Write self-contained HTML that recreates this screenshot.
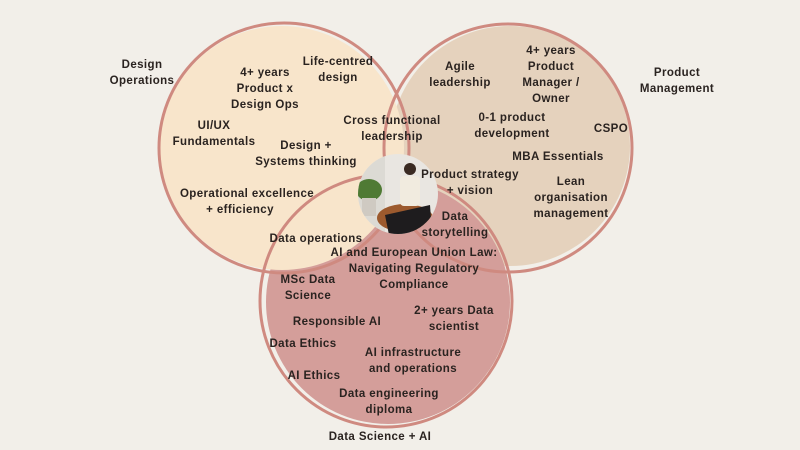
<!DOCTYPE html>
<html><head><meta charset="utf-8"><style>
html,body{margin:0;padding:0;background:#f2efe9;}
svg{display:block}
text{font-family:"Liberation Sans",sans-serif;font-weight:bold;font-size:11.5px;fill:#2a2320;text-anchor:middle;letter-spacing:0.4px}
</style></head><body>
<svg width="800" height="450" viewBox="0 0 800 450">
<rect width="800" height="450" fill="#f2efe9"/>
<circle cx="510" cy="146" r="120" fill="#e5d2bd"/>
<circle cx="388" cy="302" r="122" fill="#d49e9a"/>
<circle cx="282" cy="148" r="122" fill="#f8e5cb"/>
<g fill="none" stroke="#cf8a80" stroke-width="3">
<circle cx="284" cy="148" r="125"/>
<circle cx="508" cy="148" r="124"/>
<circle cx="386" cy="301" r="126"/>
</g>
<defs><clipPath id="cp"><circle cx="398" cy="194" r="40"/></clipPath></defs>
<g clip-path="url(#cp)">
<rect x="355" y="150" width="90" height="90" fill="#e9e6e1"/>
<rect x="355" y="150" width="30" height="90" fill="#dcdad4"/>
<ellipse cx="369" cy="190" rx="13" ry="11" fill="#4f7a34"/>
<rect x="362" y="198" width="14" height="18" fill="#cfcac2"/>
<ellipse cx="405" cy="218" rx="28" ry="14" fill="#9c5a2e"/>
<rect x="400" y="176" width="20" height="30" rx="4" fill="#f1ebdf"/>
<circle cx="410" cy="169" r="6" fill="#3a2a22"/>
<path d="M385 215 L430 205 L432 232 L390 240 Z" fill="#1e1c1e"/>
</g>
<text x="142" y="68">Design</text><text x="142" y="84">Operations</text>
<text x="677" y="76">Product</text><text x="677" y="92">Management</text>
<text x="380" y="440">Data Science + AI</text>
<text x="338" y="65">Life-centred</text><text x="338" y="81">design</text>
<text x="265" y="76">4+ years</text><text x="265" y="92">Product x</text><text x="265" y="108">Design Ops</text>
<text x="214" y="129">UI/UX</text><text x="214" y="145">Fundamentals</text>
<text x="306" y="149">Design +</text><text x="306" y="165">Systems thinking</text>
<text x="392" y="124">Cross functional</text><text x="392" y="140">leadership</text>
<text x="247" y="197">Operational excellence</text><text x="240" y="213">+ efficiency</text>
<text x="316" y="242">Data operations</text>
<text x="460" y="70">Agile</text><text x="460" y="86">leadership</text>
<text x="551" y="54">4+ years</text><text x="551" y="70">Product</text><text x="551" y="86">Manager /</text><text x="551" y="102">Owner</text>
<text x="512" y="121">0-1 product</text><text x="512" y="137">development</text>
<text x="611" y="132">CSPO</text>
<text x="558" y="160">MBA Essentials</text>
<text x="470" y="178">Product strategy</text><text x="470" y="194">+ vision</text>
<text x="571" y="185">Lean</text><text x="571" y="201">organisation</text><text x="571" y="217">management</text>
<text x="455" y="220">Data</text><text x="455" y="236">storytelling</text>
<text x="414" y="256">AI and European Union Law:</text>
<text x="414" y="272">Navigating Regulatory</text>
<text x="414" y="288">Compliance</text>
<text x="308" y="283">MSc Data</text><text x="308" y="299">Science</text>
<text x="337" y="325">Responsible AI</text>
<text x="454" y="314">2+ years Data</text><text x="454" y="330">scientist</text>
<text x="303" y="347">Data Ethics</text>
<text x="413" y="356">AI infrastructure</text><text x="413" y="372">and operations</text>
<text x="314" y="379">AI Ethics</text>
<text x="389" y="397">Data engineering</text><text x="389" y="413">diploma</text>
</svg>
</body></html>
